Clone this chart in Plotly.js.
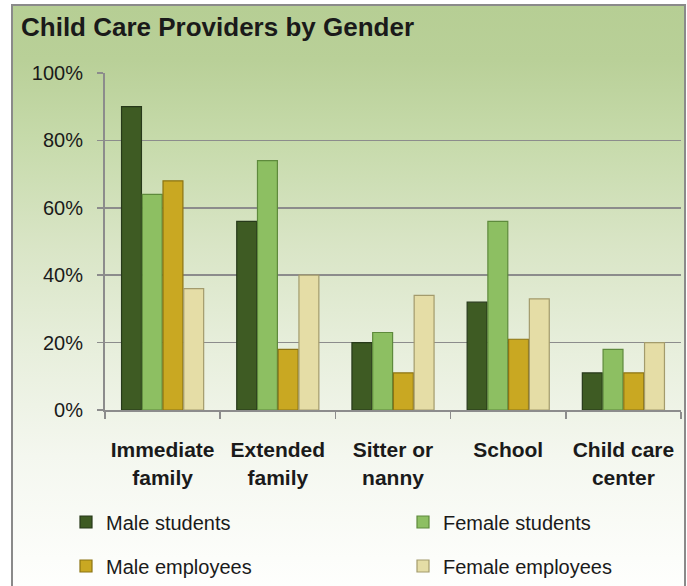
<!DOCTYPE html>
<html>
<head>
<meta charset="utf-8">
<script src="https://cdn.plot.ly/plotly-3.0.1.min.js"></script>
<style>
  html, body { margin: 0; padding: 0; background: #ffffff; }
  #wrap { position: relative; width: 687px; height: 586px; overflow: hidden; background: #ffffff; }
  #frame {
    position: absolute; left: 11px; top: 4px; width: 671px; height: 600px;
    border: 2px solid #8a8a8a;
    background: linear-gradient(to bottom, #b6ce94 0%, #b9d098 9%, #c6daaa 22%, #d9e5c6 40%, #e8efdd 58%, #f4f7ef 75%, #fcfdfa 92%, #ffffff 100%);
  }
  #chart { position: absolute; left: 0; top: 0; width: 687px; height: 586px; }
</style>
</head>
<body>
<div id="wrap">
  <div id="frame"></div>
  <div id="chart"></div>
</div>
<script>
var categories = ["Immediate<br>family", "Extended<br>family", "Sitter or<br>nanny", "School", "Child care<br>center"];
var seriesNames = ["Male students", "Female students", "Male employees", "Female employees"];
var maleStudents = [90, 56, 20, 32, 11];
var femaleStudents = [64, 74, 23, 56, 18];
var maleEmployees = [68, 18, 11, 21, 11];
var femaleEmployees = [36, 40, 34, 33, 20];
var yTickValues = [0, 20, 40, 60, 80, 100];
var yTickLabels = ["0%", "20%", "40%", "60%", "80%", "100%"];

var fills = ["#3e5b23", "#8dbf62", "#c9a822", "#e5dda6"];
var edges = ["#27391a", "#5e8a3c", "#8c7413", "#a39b6c"];
var values = [maleStudents, femaleStudents, maleEmployees, femaleEmployees];
var legendIds = ["legend", "legend2", "legend3", "legend4"];

var traces = values.map(function (v, i) {
  return {
    type: "bar",
    name: seriesNames[i],
    x: categories,
    y: v,
    marker: { color: fills[i], line: { color: edges[i], width: 1.2 } },
    legend: legendIds[i],
    hoverinfo: "x+y+name"
  };
});

var legendFont = { family: "Liberation Sans, Arial, sans-serif", size: 20, color: "#1a1a1a" };
function mkLegend(px, py) {
  return {
    xref: "container", yref: "container",
    x: px / 687, y: 1 - py / 586,
    xanchor: "left", yanchor: "middle",
    orientation: "h",
    bgcolor: "rgba(0,0,0,0)", borderwidth: 0,
    font: legendFont,
    itemwidth: 30
  };
}

var layout = {
  width: 687, height: 586,
  paper_bgcolor: "rgba(0,0,0,0)",
  plot_bgcolor: "rgba(0,0,0,0)",
  margin: { l: 105, r: 6, t: 73, b: 176 },
  title: {
    text: "<b>Child Care Providers by Gender</b>",
    font: { family: "Liberation Sans, Arial, sans-serif", size: 26, color: "#1a1a1a" },
    x: 21 / 687, xanchor: "left", xref: "container",
    y: 1 - 27 / 586, yanchor: "middle", yref: "container"
  },
  barmode: "group",
  bargap: 0.28,
  bargroupgap: 0.04,
  showlegend: true,
  legend: mkLegend(66, 522),
  legend2: mkLegend(403, 522),
  legend3: mkLegend(66, 566),
  legend4: mkLegend(403, 566),
  xaxis: {
    type: "category",
    showline: true, linecolor: "#8c8c8c", linewidth: 2,
    ticks: "outside", tickson: "boundaries", ticklen: 7, tickcolor: "#8c8c8c", tickwidth: 1.5,
    showgrid: false,
    tickfont: { family: "Liberation Sans, Arial, sans-serif", size: 21, color: "#1a1a1a" },
    ticklabelstandoff: 20,
    fixedrange: true
  },
  yaxis: {
    range: [0, 100],
    tickvals: yTickValues, ticktext: yTickLabels,
    showline: true, linecolor: "#8c8c8c", linewidth: 2,
    ticks: "outside", ticklen: 6, tickcolor: "#8c8c8c", tickwidth: 1.5,
    showgrid: true, gridcolor: "#8c8c8c", gridwidth: 1.5,
    zeroline: false,
    tickfont: { family: "Liberation Sans, Arial, sans-serif", size: 20, color: "#1a1a1a" },
    ticklabelstandoff: 10,
    fixedrange: true
  }
};

// bold category labels
layout.xaxis.ticktext = categories.map(function (c) { return "<b>" + c + "</b>"; });
layout.xaxis.tickvals = categories;

Plotly.newPlot("chart", traces, layout, { displayModeBar: false, staticPlot: true });
</script>
</body>
</html>
